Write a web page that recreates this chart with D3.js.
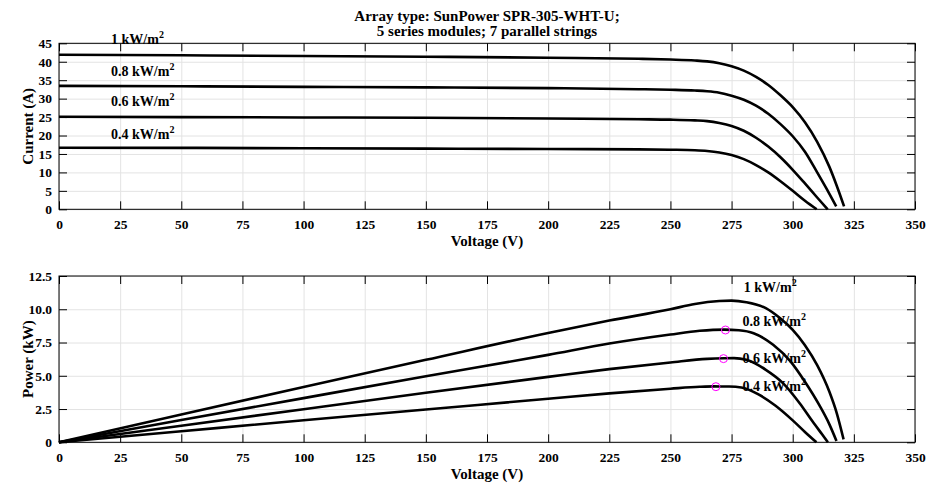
<!DOCTYPE html>
<html>
<head>
<meta charset="utf-8">
<script src="https://cdn.jsdelivr.net/npm/d3@7"></script>
<style>
  body { margin: 0; background: #fff; }
  svg { display: block; font-family: "Liberation Serif", "Times New Roman", serif; font-weight: bold; }
  .grid line { stroke: #e3e3e3; stroke-width: 1; }
  .grid path { display: none; }
  .axis path { display: none; }
  .axis line { stroke: #000; stroke-width: 1; }
  .axis text { font-family: "Liberation Serif", serif; font-weight: bold; font-size: 13.5px; fill: #000; }
  .curve { fill: none; stroke: #000; stroke-width: 2.6; }
</style>
</head>
<body>
<svg width="927" height="487"></svg>
<script>
// irradiance levels
var irradiance = ["1", "0.8", "0.6", "0.4"];

// I-V curves (Voltage V, Current A)
var v1000 = [0, 50, 100, 150, 200, 237, 250, 260, 265, 270, 275, 280, 285, 290, 295, 300, 305, 310, 315, 318, 321];
var i1000 = [41.9, 41.75, 41.55, 41.35, 41.1, 40.8, 40.6, 40.35, 40.1, 39.6, 38.8, 37.6, 35.9, 33.7, 30.9, 27.7, 23.6, 18.3, 11.5, 6.4, 0.8];
var v800 = [0, 50, 100, 150, 200, 237, 250, 260, 265, 270, 275, 280, 285, 290, 295, 300, 305, 310, 315, 317.8];
var i800 = [33.45, 33.35, 33.2, 33.05, 32.85, 32.55, 32.4, 32.2, 32.0, 31.6, 30.8, 29.7, 28.1, 25.9, 23.1, 19.8, 15.6, 10.0, 4.2, 0.8];
var v600 = [0, 50, 100, 150, 200, 237, 250, 260, 265, 270, 275, 280, 285, 290, 295, 300, 305, 310, 314.3];
var i600 = [25.1, 25.0, 24.9, 24.8, 24.6, 24.4, 24.3, 24.1, 23.9, 23.4, 22.6, 21.3, 19.4, 17.0, 14.1, 10.7, 7.0, 3.2, 0.0];
var v400 = [0, 50, 100, 150, 200, 237, 250, 260, 265, 270, 275, 280, 285, 290, 295, 300, 305, 309.8];
var i400 = [16.7, 16.65, 16.55, 16.45, 16.35, 16.25, 16.15, 16.0, 15.8, 15.4, 14.7, 13.6, 12.0, 10.0, 7.6, 5.0, 2.3, 0.0];

// P-V curves (Voltage V, Power kW)
var pv1000 = [0, 50, 100, 150, 200, 225, 250, 260, 270, 275, 281, 289, 295, 300, 305, 310, 315, 318, 320.8];
var p1000 = [0, 2.09, 4.16, 6.2, 8.22, 9.15, 10.0, 10.4, 10.62, 10.65, 10.53, 10.08, 9.3, 8.45, 7.3, 5.8, 3.8, 2.2, 0.22];
var pv800 = [0, 50, 100, 150, 200, 225, 250, 262, 272, 278, 284, 292, 299, 305, 311, 315, 317.9];
var p800 = [0, 1.67, 3.32, 4.96, 6.57, 7.42, 8.1, 8.38, 8.47, 8.42, 8.2, 7.33, 6.1, 4.55, 2.75, 1.35, 0.1];
var pv600 = [0, 50, 100, 150, 200, 225, 250, 265, 272, 276, 281, 289, 296, 303, 308, 312, 314.4];
var p600 = [0, 1.25, 2.49, 3.72, 4.92, 5.5, 6.0, 6.27, 6.32, 6.33, 6.2, 5.45, 4.45, 2.9, 1.6, 0.6, 0.0];
var pv400 = [0, 50, 100, 150, 200, 225, 250, 262, 268, 274, 279, 286, 293, 300, 305, 309.7];
var p400 = [0, 0.83, 1.66, 2.47, 3.27, 3.68, 4.03, 4.17, 4.2, 4.19, 4.12, 3.6, 2.75, 1.65, 0.78, 0.0];

// maximum power points marked
var mppV = [272.5, 271.7, 268.6];
var mppP = [8.44, 6.29, 4.18];

// ticks
var xTicks = d3.range(0, 351, 25);
var yTicksTop = d3.range(0, 46, 5);
var yTicksBot = [0, 2.5, 5, 7.5, 10, 12.5];
var yTickLabelsBot = ["0", "2.5", "5.0", "7.5", "10.0", "12.5"];

var titleLines = ["Array type: SunPower SPR-305-WHT-U;", "5 series modules; 7 parallel strings"];

var svg = d3.select("svg");

var left = 59, right = 915;
var x = d3.scaleLinear().domain([0, 350]).range([left, right]);
var yTop = d3.scaleLinear().domain([0, 45]).range([209.3, 43.3]);
var yBot = d3.scaleLinear().domain([0, 12.5]).range([442.3, 276]);

function zip(vs, ys) {
    return vs.map(function(v, k) { return [v, ys[k]]; });
}

var line = function(y) {
    return d3.line()
        .x(function(d) { return x(d[0]); })
        .y(function(d) { return y(d[1]); })
        .curve(d3.curveMonotoneX);
};

function panel(y, yTicks, yFmt, yLabel) {
    var top = y.range()[1], bottom = y.range()[0];
    var h = bottom - top, w = right - left;

    // grid
    svg.append("g").attr("class", "grid")
        .attr("transform", "translate(0," + bottom + ")")
        .call(d3.axisBottom(x).tickValues(xTicks).tickSize(-h).tickFormat(""));
    svg.append("g").attr("class", "grid")
        .attr("transform", "translate(" + left + ",0)")
        .call(d3.axisLeft(y).tickValues(yTicks).tickSize(-w).tickFormat(""));

    // axes with inward ticks
    svg.append("g").attr("class", "axis")
        .attr("transform", "translate(0," + bottom + ")")
        .call(d3.axisBottom(x).tickValues(xTicks).tickSize(-8).tickPadding(10).tickFormat(d3.format("d")));
    svg.append("g").attr("class", "axis")
        .attr("transform", "translate(0," + top + ")")
        .call(d3.axisTop(x).tickValues(xTicks).tickSize(-8).tickFormat(""));
    svg.append("g").attr("class", "axis")
        .attr("transform", "translate(" + left + ",0)")
        .call(d3.axisLeft(y).tickValues(yTicks).tickSize(-8).tickPadding(7).tickFormat(yFmt));
    svg.append("g").attr("class", "axis")
        .attr("transform", "translate(" + right + ",0)")
        .call(d3.axisRight(y).tickValues(yTicks).tickSize(-8).tickFormat(""));

    svg.append("rect")
        .attr("x", left).attr("y", top).attr("width", w).attr("height", h)
        .attr("fill", "none").attr("stroke", "#000").attr("stroke-width", 1);

    svg.append("text")
        .attr("x", (left + right) / 2).attr("y", bottom + 37)
        .attr("text-anchor", "middle").attr("font-size", 15)
        .text("Voltage (V)");

    svg.append("text")
        .attr("transform", "translate(33," + (top + h / 2) + ") rotate(-90)")
        .attr("text-anchor", "middle").attr("font-size", 15)
        .text(yLabel);
}

panel(yTop, yTicksTop, d3.format("d"), "Current (A)");
panel(yBot, yTicksBot, function(d, k) { return yTickLabelsBot[k]; }, "Power (kW)");

// title
svg.selectAll(".title").data(titleLines).enter().append("text")
    .attr("class", "title")
    .attr("x", (left + right) / 2)
    .attr("y", function(d, k) { return 21 + k * 15; })
    .attr("text-anchor", "middle").attr("font-size", 15)
    .text(function(d) { return d; });

// curves
var ivData = [zip(v1000, i1000), zip(v800, i800), zip(v600, i600), zip(v400, i400)];
var pvData = [zip(pv1000, p1000), zip(pv800, p800), zip(pv600, p600), zip(pv400, p400)];

svg.selectAll(".iv").data(ivData).enter().append("path")
    .attr("class", "curve iv")
    .attr("d", line(yTop));

svg.selectAll(".pv").data(pvData).enter().append("path")
    .attr("class", "curve pv")
    .attr("d", line(yBot));

svg.selectAll(".mpp").data(zip(mppV, mppP)).enter().append("circle")
    .attr("class", "mpp")
    .attr("cx", function(d) { return x(d[0]); })
    .attr("cy", function(d) { return yBot(d[1]); })
    .attr("r", 4)
    .attr("fill", "none").attr("stroke", "#ff00ff").attr("stroke-width", 1);

// curve labels (anchor in data units)
var topLabelAt = [[21.3, 44.8], [21.3, 36.1], [21.3, 28.1], [21.3, 19.0]];
var botLabelAt = [[280, 11.33], [279.5, 8.77], [279.5, 5.98], [279.5, 3.83]];

function irrLabel(sel, y, pos) {
    var t = sel.selectAll(null).data(irradiance).enter().append("text")
        .attr("x", function(d, k) { return x(pos[k][0]); })
        .attr("y", function(d, k) { return y(pos[k][1]); })
        .attr("font-size", 14);
    t.append("tspan").text(function(d) { return d + " kW/m"; });
    t.append("tspan").attr("dy", -6).attr("font-size", 10).text("2");
}
irrLabel(svg, yTop, topLabelAt);
irrLabel(svg, yBot, botLabelAt);
</script>
</body>
</html>
